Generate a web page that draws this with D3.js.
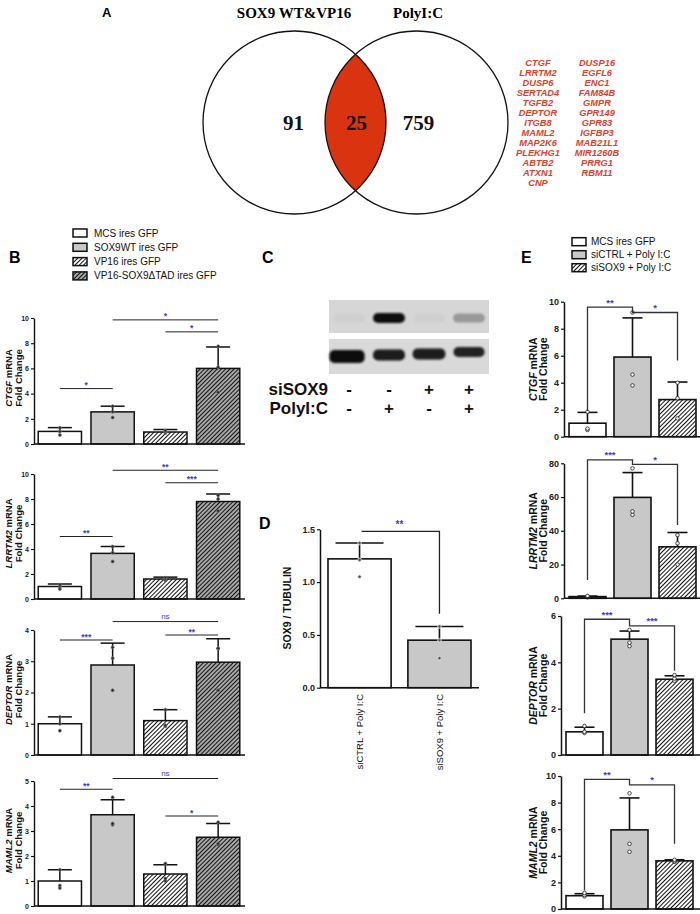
<!DOCTYPE html>
<html><head><meta charset="utf-8">
<script src="https://cdn.jsdelivr.net/npm/d3@7"></script>
<style>body{margin:0;background:#fff}svg{display:block}</style>
</head><body>
<svg id="c" width="700" height="914"></svg>
<script>
// ================= DATA =================
// Panel A
const vennSets = ["SOX9 WT&VP16", "PolyI:C"];
const vennCounts = [91, 25, 759];
const geneListLeft = ["CTGF","LRRTM2","DUSP6","SERTAD4","TGFB2","DEPTOR","ITGB8","MAML2","MAP2K6","PLEKHG1","ABTB2","ATXN1","CNP"];
const geneListRight = ["DUSP16","EGFL6","ENC1","FAM84B","GMPR","GPR149","GPR83","IGFBP3","MAB21L1","MIR1260B","PRRG1","RBM11"];

// Panel B
const bGroups = ["MCS ires GFP","SOX9WT ires GFP","VP16 ires GFP","VP16-SOX9ΔTAD ires GFP"];
const bGenes = ["CTGF","LRRTM2","DEPTOR","MAML2"];
const bYMax = [10,10,4,5];
const bYTicks = [[0,2,4,6,8,10],[0,2,4,6,8,10],[0,1,2,3,4],[0,1,2,3,4,5]];
const bMeans = [[1.0,2.55,0.95,6.0],[1.0,3.65,1.6,7.8],[1.0,2.88,1.1,2.97],[1.0,3.65,1.28,2.75]];
const bErrTop = [[1.3,3.0,1.15,7.7],[1.2,4.2,1.75,8.4],[1.22,3.58,1.45,3.72],[1.45,4.25,1.65,3.3]];
const bPoints = [
  [[0.72,1.0,1.28],[2.1,2.55,3.0],[0.88,0.95,1.05],[4.1,6.1,7.75]],
  [[0.8,1.0,1.15],[3.0,3.7,4.2],[1.5,1.6,1.7],[7.05,8.0,8.3]],
  [[0.78,1.0,1.22],[2.07,3.1,3.45],[0.92,0.95,1.45],[2.07,3.4,3.42]],
  [[0.72,0.82,1.45],[3.25,3.3,4.35],[1.0,1.1,1.7],[2.45,2.5,3.35]]
];
// [from, to, level, label]
const bSig = [
  [[0,1,4.4,"*"],[1,3,9.85,"*"],[2,3,8.9,"*"]],
  [[0,1,5.0,"**"],[1,3,10.3,"**"],[2,3,9.3,"***"]],
  [[0,1,3.68,"***"],[1,3,4.27,"ns"],[2,3,3.84,"**"]],
  [[0,1,4.67,"**"],[1,3,5.1,"ns"],[2,3,3.6,"*"]]
];

// Panel C
const blotSiSOX9 = ["-","-","+","+"];
const blotPolyIC = ["-","+","-","+"];
const blotSOX9Intensity = [0.03,1.0,0.03,0.3];
const blotTubulinIntensity = [1.0,0.93,0.93,0.9];

// Panel D
const dGroups = ["siCTRL + Poly I:C","siSOX9 + Poly I:C"];
const dMeans = [1.22,0.45];
const dErrTop = [1.37,0.58];
const dPoints = [[1.05,1.21,1.37],[0.28,0.45,0.58]];
const dYTicks = [0,0.5,1.0,1.5];
const dSig = [1.48, 0.70, "**"]; // level, right leg end, label

// Panel E
const eGroups = ["MCS ires GFP","siCTRL + Poly I:C","siSOX9 + Poly I:C"];
const eGenes = ["CTGF","LRRTM2","DEPTOR","MAML2"];
const eYMax = [10,80,6,10];
const eYTicks = [[0,2,4,6,8,10],[0,20,40,60,80],[0,2,4,6],[0,2,4,6,8,10]];
const eMeans = [[1.0,5.9,2.75],[1.0,59.8,30.5],[1.0,5.0,3.27],[1.0,5.95,3.62]];
const eErrTop = [[1.8,8.8,4.05],[1.3,74.5,39],[1.2,5.35,3.42],[1.15,8.35,3.7]];
const ePoints = [
  [[0.5,0.6,1.85],[3.8,4.6,9.2],[1.35,2.85,4.0]],
  [[0.6,1.0,1.4],[49.5,51.5,77],[20,32.6,37.5]],
  [[0.95,1.0,1.25],[4.7,4.85,5.4],[3.2,3.3,3.45]],
  [[0.95,1.05,1.2],[4.3,4.9,8.7],[3.55,3.6,3.7]]
];
const eSigLevels = [[9.6,9.2],[82,79.4],[5.86,5.57],[9.75,9.33]];
const eSigLegs = [[1.9,5.65],[10.8,43.4],[1.8,3.64],[1.4,4.9]];
const eSigLabels = [["**","*"],["***","*"],["***","***"],["**","*"]];

// ================= DRAWING =================
const SANS = "'Liberation Sans', Arial, sans-serif";
const SERIF = "'Liberation Serif', 'Times New Roman', serif";
const BLUE = "#3a3ad8";
const svg = d3.select("#c");
const defs = svg.append("defs");

function hatch(id, bg) {
  const p = defs.append("pattern").attr("id", id).attr("patternUnits","userSpaceOnUse")
    .attr("width",3).attr("height",3).attr("patternTransform","rotate(45)");
  p.append("rect").attr("width",3).attr("height",3).attr("fill",bg);
  p.append("line").attr("x1",0.5).attr("y1",0).attr("x2",0.5).attr("y2",3)
    .attr("stroke","#111").attr("stroke-width",1);
}
hatch("hw","#ffffff");
hatch("hg","#a8a8a8");
defs.append("filter").attr("id","blur").attr("x","-50%").attr("y","-50%").attr("width","200%").attr("height","200%")
  .append("feGaussianBlur").attr("stdDeviation",1.3);

function panelLetter(t, x, y, size) {
  svg.append("text").attr("x",x).attr("y",y).attr("font-family",SANS).attr("font-weight","bold")
    .attr("font-size",size).text(t);
}

// ---------- Panel A ----------
panelLetter("A", 102, 17, 13);
const vr = 91.5, vcy = 122.5;
const vx = d3.scaleLinear().domain([0,1]).range([294.5, 416.5]); // circle centres
const dC = vx(1) - vx(0);
const ix = (vx(0) + vx(1)) / 2;
const iy = Math.sqrt(vr*vr - (dC/2)*(dC/2));
svg.append("path")
  .attr("d", `M${ix},${vcy-iy} A${vr},${vr} 0 0 1 ${ix},${vcy+iy} A${vr},${vr} 0 0 1 ${ix},${vcy-iy} Z`)
  .attr("fill","#d9330f");
svg.selectAll("circle.venn").data(vennSets).join("circle").attr("class","venn")
  .attr("cx",(d,i)=>vx(i)).attr("cy",vcy).attr("r",vr)
  .attr("fill","none").attr("stroke","#111").attr("stroke-width",1.3);
svg.selectAll("text.vset").data(vennSets).join("text").attr("class","vset")
  .attr("x",(d,i)=> i===0 ? 294 : 418).attr("y",18).attr("text-anchor","middle")
  .attr("font-family",SERIF).attr("font-weight","bold").attr("font-size",15).text(d=>d);
const countX = [vx(0)-1, ix+1, vx(1)+2];
svg.selectAll("text.vcount").data(vennCounts).join("text").attr("class","vcount")
  .attr("x",(d,i)=>countX[i]).attr("y",130).attr("text-anchor","middle")
  .attr("font-family",SERIF).attr("font-weight","bold").attr("font-size",21).attr("fill","#111").text(d=>d);
const geneY = d3.scaleLinear().domain([0,1]).range([62.3, 72.35]);
[[geneListLeft,538],[geneListRight,597]].forEach(([list,cx])=>{
  svg.append("g").selectAll("text").data(list).join("text")
    .attr("x",cx).attr("y",(d,i)=>geneY(i)).attr("dy","0.35em").attr("text-anchor","middle")
    .attr("font-family",SANS).attr("font-weight","bold").attr("font-style","italic")
    .attr("font-size",9.3).attr("fill","#e0402c").text(d=>d);
});

// ---------- generic bar chart ----------
function barChart(o) {
  const g = svg.append("g");
  const x = d3.scaleBand().domain(o.groups).range([o.x0, o.x1]).paddingInner(o.pi).paddingOuter(o.po);
  const y = d3.scaleLinear().domain([0, o.max]).range([o.yb, o.yt]);
  const bw = x.bandwidth();
  const cx = i => x(o.groups[i]) + bw/2;
  const eb = g.append("g").attr("stroke","#111").attr("stroke-width",o.sw);
  o.groups.forEach((d,i)=>{
    eb.append("line").attr("x1",cx(i)).attr("x2",cx(i)).attr("y1",y(o.means[i])).attr("y2",y(o.err[i]));
    eb.append("line").attr("x1",cx(i)-o.cap/2).attr("x2",cx(i)+o.cap/2).attr("y1",y(o.err[i])).attr("y2",y(o.err[i]));
  });
  g.selectAll("rect.bar").data(o.groups).join("rect").attr("class","bar")
    .attr("x",d=>x(d)).attr("y",(d,i)=>y(o.means[i])).attr("width",bw)
    .attr("height",(d,i)=>y(0)-y(o.means[i]))
    .attr("fill",(d,i)=>o.fills[i]).attr("stroke","#111").attr("stroke-width",o.sw);
  o.groups.forEach((d,i)=>{
    g.append("g").selectAll("circle").data(o.points[i]).join("circle")
      .attr("cx",cx(i)).attr("cy",v=>y(v)).attr("r",o.pr)
      .attr("fill",o.pfill).attr("stroke",o.pstroke).attr("stroke-width",0.8);
  });
  const ya = g.append("g").attr("transform",`translate(${o.x0},0)`)
    .call(d3.axisLeft(y).tickValues(o.ticks).tickSize(3).tickSizeOuter(0).tickPadding(2).tickFormat(o.fmt || d3.format("d")));
  ya.select(".domain").attr("stroke","#111").attr("stroke-width",o.aw);
  ya.selectAll(".tick line").attr("stroke","#111").attr("stroke-width",o.aw*0.8);
  ya.selectAll(".tick text").attr("font-family",SANS).attr("font-weight","bold").attr("font-size",o.tf).attr("fill","#222");
  const xa = g.append("g").attr("transform",`translate(0,${y(0)})`)
    .call(d3.axisBottom(x).tickSize(0).tickSizeOuter(0).tickFormat(""));
  xa.select(".domain").attr("stroke","#111").attr("stroke-width",o.aw).attr("d",`M${o.x0},0H${o.xEnd}`);
  if (o.gene) {
    const my = (o.yt + o.yb)/2 + (o.labShift||0);
    const t1 = svg.append("text").attr("transform",`translate(${o.lx1},${my}) rotate(-90)`)
      .attr("text-anchor","middle").attr("dominant-baseline","central")
      .attr("font-family",SANS).attr("font-weight","bold").attr("font-size",o.lf).attr("fill","#111");
    t1.append("tspan").attr("font-style","italic").text(o.gene);
    t1.append("tspan").text(" mRNA");
    svg.append("text").attr("transform",`translate(${o.lx2},${my}) rotate(-90)`)
      .attr("text-anchor","middle").attr("dominant-baseline","central")
      .attr("font-family",SANS).attr("font-weight","bold").attr("font-size",o.lf).attr("fill","#111")
      .text("Fold Change");
  }
  return {x, y, cx, g};
}

function legend(items, fills, bx, y0, dy, tx) {
  const g = svg.append("g");
  items.forEach((d,i)=>{
    g.append("rect").attr("x",bx).attr("y",y0+i*dy-4).attr("width",14).attr("height",8)
      .attr("fill",fills[i]).attr("stroke","#111").attr("stroke-width",1.5);
    g.append("text").attr("x",tx).attr("y",y0+i*dy).attr("dy","0.35em")
      .attr("font-family",SANS).attr("font-size",10).attr("fill","#111").text(d);
  });
}

// ---------- Panel B ----------
panelLetter("B", 9, 263, 16);
const bFills = ["#ffffff","#c8c8c8","url(#hw)","url(#hg)"];
legend(bGroups, bFills, 73, 233, 14.3, 94);
const bTop = [318,474,630,781], bBot = [444,599,755,906];
bGenes.forEach((gene,k)=>{
  const c = barChart({groups:bGroups, x0:34, x1:244, xEnd:245, pi:0.18, po:0.08,
    yt:bTop[k], yb:bBot[k], max:bYMax[k], ticks:bYTicks[k], means:bMeans[k], err:bErrTop[k],
    points:bPoints[k], fills:bFills, sw:1.5, aw:1.4, cap:24, pr:1.5, pfill:"#222", pstroke:"#777",
    tf:7, gene:gene, lx1:8, lx2:18.5, lf:9.5, labShift:-3});
  bSig[k].forEach(([a,b,lev,lab])=>{
    c.g.append("line").attr("x1",c.cx(a)).attr("x2",c.cx(b)).attr("y1",c.y(lev)).attr("y2",c.y(lev))
      .attr("stroke","#222").attr("stroke-width",1);
    c.g.append("text").attr("x",(c.cx(a)+c.cx(b))/2).attr("y",c.y(lev) - (lab==="ns"?3:0.5))
      .attr("text-anchor","middle").attr("font-family",SANS).attr("font-size",lab==="ns"?8:8.5)
      .attr("font-weight",lab==="ns"?"normal":"bold").attr("fill",BLUE).text(lab);
  });
});

// ---------- Panel C ----------
panelLetter("C", 262, 263, 16);
const lane = d3.scaleBand().domain(d3.range(4)).range([329,489]);
const rowsC = [
  {y:300,h:33,bg:"#d6d6d6",vals:blotSOX9Intensity,cys:[318,318,318,318],hs:[10,10,10,9],ws:[0.8,0.8,0.8,0.8],dx:[0,0,0,0]},
  {y:339,h:35,bg:"#d9d9d9",vals:blotTubulinIntensity,cys:[356.5,355,354,352],hs:[13,11,11,10],ws:[0.88,0.8,0.82,0.78],dx:[-2,0,0,0]}
];
rowsC.forEach(r=>{
  svg.append("rect").attr("x",329).attr("y",r.y).attr("width",160).attr("height",r.h).attr("fill",r.bg);
  const col = d3.interpolateRgb(r.bg,"#0c0c0c");
  svg.append("g").attr("filter","url(#blur)").selectAll("rect").data(r.vals).join("rect")
    .attr("x",(v,i)=>lane(i)+lane.bandwidth()*(1-r.ws[i])/2 + r.dx[i])
    .attr("width",(v,i)=>lane.bandwidth()*r.ws[i])
    .attr("y",(v,i)=>r.cys[i]-r.hs[i]/2)
    .attr("height",(v,i)=>r.hs[i])
    .attr("rx",5).attr("fill",v=>col(v));
});
[[ "siSOX9", blotSiSOX9, 389],[ "PolyI:C", blotPolyIC, 408]].forEach(([lab,signs,yy])=>{
  svg.append("text").attr("x",328).attr("y",yy).attr("dy","0.35em").attr("text-anchor","end")
    .attr("font-family",SANS).attr("font-weight","bold").attr("font-size",17).attr("fill","#111").text(lab);
  svg.append("g").selectAll("text").data(signs).join("text")
    .attr("x",(s,i)=>lane(i)+lane.bandwidth()/2).attr("y",yy).attr("dy","0.35em").attr("text-anchor","middle")
    .attr("font-family",SANS).attr("font-weight","bold").attr("font-size",17).attr("fill","#111").text(s=>s);
});

// ---------- Panel D ----------
panelLetter("D", 259, 529, 16);
const dC2 = barChart({groups:dGroups, x0:320, x1:479, xEnd:479, pi:0.21, po:0.1,
  yt:529.3, yb:687.7, max:1.5, ticks:dYTicks, means:dMeans, err:dErrTop, points:dPoints,
  fills:["#ffffff","#c8c8c8"], sw:1.6, aw:1.5, cap:48, pr:1.8, pfill:"#555", pstroke:"#eee",
  tf:9, fmt:d3.format(".1f")});
svg.append("text").attr("transform",`translate(287,608) rotate(-90)`).attr("text-anchor","middle")
  .attr("dominant-baseline","central").attr("font-family",SANS).attr("font-weight","bold")
  .attr("font-size",10.5).attr("fill","#111").text("SOX9 / TUBULIN");
svg.append("g").selectAll("text").data(dGroups).join("text")
  .attr("transform",(d,i)=>`translate(${dC2.cx(i)},694) rotate(-90)`).attr("text-anchor","end")
  .attr("dominant-baseline","central").attr("font-family",SANS).attr("font-size",9.5).attr("fill","#111").text(d=>d);
dC2.g.append("path").attr("d",`M${dC2.cx(0)+2},${dC2.y(dSig[0])}H${dC2.cx(1)}V${dC2.y(dSig[1])}`)
  .attr("fill","none").attr("stroke","#222").attr("stroke-width",1.3);
dC2.g.append("text").attr("x",(dC2.cx(0)+dC2.cx(1))/2).attr("y",dC2.y(dSig[0])-3).attr("text-anchor","middle")
  .attr("font-family",SANS).attr("font-weight","bold").attr("font-size",10).attr("fill",BLUE).text(dSig[2]);

// ---------- Panel E ----------
panelLetter("E", 521, 263, 16);
const eFills = ["#ffffff","#c8c8c8","url(#hw)"];
legend(eGroups, eFills, 572, 241.7, 13, 591);
const eTop = [301.7,463.3,616,776], eBot = [436.7,598.3,755,909], eAx = [564,564,561,561];
eGenes.forEach((gene,k)=>{
  const c = barChart({groups:eGroups, x0:eAx[k], x1:eAx[k]+137, xEnd:700, pi:0.178, po:0.111,
    yt:eTop[k], yb:eBot[k], max:eYMax[k], ticks:eYTicks[k], means:eMeans[k], err:eErrTop[k],
    points:ePoints[k], fills:eFills, sw:1.6, aw:1.5, cap:20, pr:1.8, pfill:"#f4f4f4", pstroke:"#222",
    tf:9, gene:gene, lx1:532.5, lx2:543, lf:10.5, labShift:0});
  const xs = [c.cx(0), c.cx(1), c.cx(2)];
  const lv = eSigLevels[k], lg = eSigLegs[k];
  c.g.append("path")
    .attr("d",`M${xs[0]},${c.y(lg[0])}V${c.y(lv[0])}H${xs[1]}V${c.y(lv[1])}H${xs[2]}V${c.y(lg[1])}`)
    .attr("fill","none").attr("stroke","#333").attr("stroke-width",1.3);
  eSigLabels[k].forEach((lab,j)=>{
    c.g.append("text").attr("x",(xs[j]+xs[j+1])/2).attr("y",c.y(lv[j])-1.5).attr("text-anchor","middle")
      .attr("font-family",SANS).attr("font-weight","bold").attr("font-size",9.5).attr("fill",BLUE).text(lab);
  });
});
</script>
</body></html>
